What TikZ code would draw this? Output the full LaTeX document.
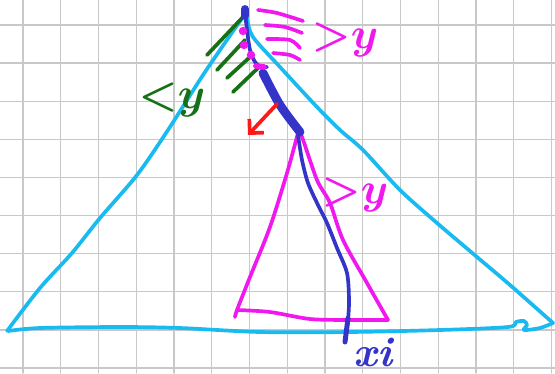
\documentclass[tikz,border=0pt]{standalone}
\usepackage{amsmath,amssymb}
\usepackage{xcolor}
\usepackage{tikz}
\usetikzlibrary{arrows.meta}
\usetikzlibrary{positioning}

\definecolor{treeblue}{RGB}{24,186,240}
\definecolor{rangepink}{RGB}{240,24,238}
\definecolor{leftgreen}{RGB}{22,112,22}
\definecolor{pathblue}{RGB}{52,52,200}
\definecolor{dirred}{RGB}{255,24,24}
\definecolor{paper}{RGB}{200,200,200}

\begin{document}
\begin{tikzpicture}[x=0.02cm,y=-0.02cm,
  line cap=round,line join=round,
  gridline/.style={draw=paper,line width=0.8pt},
  outer/.style={draw=treeblue,line width=2.1pt},
  inner/.style={draw=rangepink,line width=2.1pt},
  hatch/.style={draw=leftgreen,line width=2.1pt},
  track/.style={draw=pathblue,line width=2.1pt},
  every node/.style={inner sep=0pt,font=\fontsize{29}{29}\selectfont\boldmath}]
\useasboundingbox (0,0) rectangle (555,373);
% squared paper
\foreach \k in {0,...,14}
  \draw[gridline] ({23+37.75*\k},0) -- ({23+37.75*\k},373);
\foreach \k in {0,...,9}
  \draw[gridline] (0,{25+38.1*\k}) -- (555,{25+38.1*\k});

% whole tree
\draw[outer] plot[smooth,tension=0.5] coordinates {(245,14) (205,72) (168,130) (137,175) (100,218) (72,253) (40,288) (7,331)};
\draw[outer] plot[smooth,tension=0.5] coordinates {(8,331) (40,328) (120,327) (180,328) (260,332) (350,332) (440,330) (508,327) (516,322) (524,321) (527,325) (524,330) (540,328) (553,323)};
\draw[outer] plot[smooth,tension=0.5] coordinates {(553,323) (510,285) (477,257) (437,223) (400,190) (363,150) (340,130) (317,107) (280,67) (253,37) (247,18)};

% subtree below the split
\draw[inner] plot[smooth,tension=0.5] coordinates {(298,133) (287,173) (270,227) (250,277) (237,310) (235,317)};
\draw[inner] plot[smooth,tension=0.5] coordinates {(237,310) (270,312) (310,319) (350,320) (388,320)};
\draw[inner] plot[smooth,tension=0.5] coordinates {(388,320) (367,283) (343,240) (330,203) (317,180) (302,137) (298,133)};

% left parts
\foreach \xa/\ya/\xb/\yb in {207/55/243/17, 217/70/245/40, 227/78/250/57, 233/92/258/68}
  \draw[hatch] (\xa,\ya) -- (\xb,\yb);

% right parts
\draw[inner] plot[smooth] coordinates {(258,10) (277,13) (303,21)};
\draw[inner] plot[smooth] coordinates {(265,25) (285,27) (302,33)};
\draw[inner] plot[smooth] coordinates {(267,39) (290,40) (300,48)};
\draw[inner] plot[smooth] coordinates {(273,53) (290,55) (300,60)};

% search path
\draw[track,line width=4.5pt] (245,9) -- (245,16);
\draw[track] plot[smooth] coordinates {(245,12) (247,30) (250,50) (255,62) (262,68)};
\draw[track] (255,66) -- (267,67);
\draw[track,line width=5pt] plot[smooth] coordinates {(263,73) (280,105) (300,132)};
\draw[track] plot[smooth] coordinates {(298,135) (302,160) (308,183) (318,205) (327,223) (337,248) (347,273) (349,300) (348,320) (345,342)};
\draw[track,line width=2.8pt] (348,318) -- (345,342);

\foreach \px/\py in {243/31, 244/45, 251/55}
  \fill[rangepink] (\px,\py) circle (2.4pt);
\draw[inner,line width=3.2pt] (256,66) -- (264,67);

% step direction
\coordinate (push) at (277,104);
\coordinate (pushtip) at (248,135);
\draw[dirred,line width=2.1pt,-{Straight Barb[length=2mm,width=4mm]}] (push) -- (pushtip);

\node[text=leftgreen] (lessy) at (172,100) {${<}y$};
\node[text=rangepink] (topy) at (345,40) {${>}y$};
\node[text=rangepink] (midy) at (355,195) {${>}y$};
\node[text=pathblue,font=\fontsize{24}{24}\selectfont\bfseries\itshape] (xi) at (373,352) {xi};
\end{tikzpicture}
\end{document}
